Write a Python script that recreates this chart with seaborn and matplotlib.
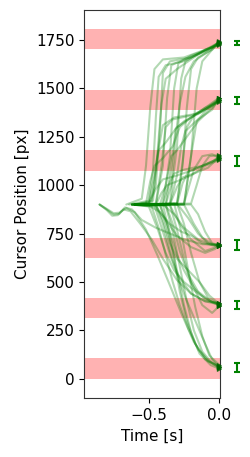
import numpy as np
import pandas as pd
import seaborn as sns
import matplotlib
matplotlib.use("Agg")
import matplotlib.pyplot as plt

# target bands (cursor position, px)
band_low = [0, 312, 622, 1075, 1388, 1702]
band_high = [105, 417, 727, 1180, 1493, 1807]

# end-point spread shown right of the axes
err_center = [1736, 1438, 1124, 692, 382, 58]
err_half = [10, 17, 26, 26, 21, 23]
err_time = 0.13

# trajectories: (time [s], cursor position [px])
traj_top = [
    [(-0.62, 900), (-0.5, 905), (-0.45, 1000), (-0.42, 1300), (-0.4, 1580), (-0.35, 1640), (-0.2, 1660), (-0.08, 1700), (0, 1735)],
    [(-0.6, 900), (-0.45, 900), (-0.4, 1100), (-0.37, 1450), (-0.34, 1620), (-0.25, 1650), (-0.1, 1690), (0, 1740)],
    [(-0.58, 900), (-0.4, 900), (-0.35, 1150), (-0.32, 1500), (-0.29, 1630), (-0.2, 1670), (-0.05, 1710), (0, 1730)],
    [(-0.55, 900), (-0.35, 905), (-0.3, 1200), (-0.27, 1550), (-0.24, 1640), (-0.15, 1680), (0, 1738)],
    [(-0.6, 900), (-0.48, 910), (-0.44, 1150), (-0.41, 1420), (-0.38, 1550), (-0.3, 1600), (-0.22, 1640), (-0.1, 1700), (0, 1725)],
    [(-0.56, 900), (-0.3, 900), (-0.26, 1100), (-0.23, 1400), (-0.2, 1600), (-0.15, 1660), (-0.05, 1700), (0, 1742)],
    [(-0.64, 900), (-0.5, 920), (-0.47, 1080), (-0.45, 1350), (-0.43, 1560), (-0.38, 1620), (-0.25, 1640), (-0.12, 1690), (0, 1733)],
    [(-0.5, 900), (-0.25, 900), (-0.2, 1150), (-0.16, 1500), (-0.12, 1640), (-0.05, 1700), (0, 1736)],
    [(-0.66, 900), (-0.55, 930), (-0.52, 1100), (-0.49, 1400), (-0.46, 1600), (-0.4, 1650), (-0.25, 1660), (-0.1, 1700), (0, 1728)],
    [(-0.57, 900), (-0.38, 900), (-0.34, 1000), (-0.31, 1250), (-0.28, 1420), (-0.24, 1560), (-0.18, 1640), (-0.06, 1700), (0, 1744)],
]
traj_second = [
    [(-0.6, 900), (-0.45, 905), (-0.41, 1100), (-0.38, 1300), (-0.33, 1340), (-0.2, 1360), (-0.08, 1400), (0, 1440)],
    [(-0.58, 900), (-0.38, 900), (-0.34, 1100), (-0.31, 1290), (-0.25, 1330), (-0.12, 1380), (0, 1448)],
    [(-0.62, 900), (-0.5, 910), (-0.46, 1050), (-0.43, 1180), (-0.38, 1220), (-0.3, 1300), (-0.2, 1350), (-0.1, 1400), (0, 1435)],
    [(-0.55, 900), (-0.3, 905), (-0.26, 1120), (-0.23, 1300), (-0.18, 1360), (-0.08, 1410), (0, 1452)],
    [(-0.6, 900), (-0.42, 900), (-0.38, 1000), (-0.34, 1150), (-0.3, 1180), (-0.22, 1260), (-0.15, 1330), (-0.05, 1400), (0, 1442)],
    [(-0.52, 900), (-0.25, 900), (-0.2, 1150), (-0.16, 1330), (-0.1, 1380), (0, 1445)],
    [(-0.6, 900), (-0.47, 920), (-0.44, 1150), (-0.4, 1310), (-0.32, 1350), (-0.15, 1370), (-0.05, 1410), (0, 1438)],
    [(-0.62, 900), (-0.52, 905), (-0.49, 1020), (-0.46, 1100), (-0.4, 1140), (-0.33, 1200), (-0.28, 1300), (-0.2, 1350), (-0.08, 1400), (0, 1432)],
    [(-0.57, 900), (-0.35, 900), (-0.3, 1050), (-0.27, 1200), (-0.24, 1280), (-0.15, 1340), (-0.05, 1390), (0, 1450)],
]
traj_third = [
    [(-0.6, 900), (-0.4, 905), (-0.36, 1000), (-0.32, 1060), (-0.25, 1080), (-0.12, 1100), (0, 1140)],
    [(-0.55, 900), (-0.3, 900), (-0.26, 1010), (-0.22, 1070), (-0.15, 1090), (-0.05, 1120), (0, 1150)],
    [(-0.62, 900), (-0.5, 905), (-0.45, 980), (-0.4, 1030), (-0.3, 1050), (-0.18, 1080), (-0.06, 1120), (0, 1135)],
    [(-0.58, 900), (-0.2, 905), (-0.16, 1000), (-0.12, 1100), (-0.07, 1150), (0, 1155)],
    [(-0.6, 900), (-0.35, 900), (-0.3, 990), (-0.26, 1040), (-0.18, 1060), (-0.08, 1090), (0, 1145)],
    [(-0.5, 900), (-0.25, 905), (-0.22, 980), (-0.18, 1080), (-0.12, 1150), (-0.05, 1160), (0, 1142)],
    [(-0.6, 900), (-0.45, 900), (-0.41, 960), (-0.37, 1000), (-0.3, 1020), (-0.2, 1050), (-0.1, 1100), (0, 1130)],
]
traj_fourth = [
    [(-0.6, 900), (-0.4, 900), (-0.32, 850), (-0.25, 780), (-0.15, 720), (-0.05, 690), (0, 692)],
    [(-0.58, 900), (-0.3, 905), (-0.22, 830), (-0.15, 750), (-0.08, 700), (0, 688)],
    [(-0.62, 900), (-0.45, 890), (-0.38, 820), (-0.3, 740), (-0.2, 680), (-0.1, 650), (-0.03, 670), (0, 695)],
    [(-0.55, 900), (-0.2, 900), (-0.15, 850), (-0.1, 760), (-0.05, 700), (0, 690)],
    [(-0.6, 900), (-0.35, 895), (-0.28, 800), (-0.2, 720), (-0.1, 660), (-0.04, 675), (0, 698)],
    [(-0.5, 900), (-0.25, 900), (-0.18, 800), (-0.12, 730), (-0.06, 700), (0, 685)],
    [(-0.85, 900), (-0.8, 875), (-0.75, 848), (-0.71, 852), (-0.67, 885), (-0.62, 875), (-0.55, 820), (-0.45, 780), (-0.35, 750), (-0.25, 720), (-0.12, 695), (0, 693)],
    [(-0.6, 900), (-0.5, 895), (-0.42, 860), (-0.35, 800), (-0.27, 760), (-0.2, 740), (-0.12, 700), (0, 684)],
]
traj_fifth = [
    [(-0.6, 900), (-0.42, 895), (-0.36, 780), (-0.3, 640), (-0.25, 560), (-0.18, 470), (-0.1, 410), (0, 385)],
    [(-0.58, 900), (-0.38, 900), (-0.33, 800), (-0.28, 660), (-0.22, 540), (-0.15, 450), (-0.06, 400), (0, 378)],
    [(-0.62, 900), (-0.5, 890), (-0.44, 780), (-0.38, 650), (-0.32, 560), (-0.25, 500), (-0.15, 440), (-0.05, 395), (0, 390)],
    [(-0.55, 900), (-0.3, 905), (-0.25, 800), (-0.2, 650), (-0.14, 500), (-0.08, 420), (0, 380)],
    [(-0.6, 900), (-0.45, 900), (-0.4, 820), (-0.35, 700), (-0.3, 620), (-0.22, 560), (-0.14, 500), (-0.07, 430), (0, 386)],
    [(-0.52, 900), (-0.35, 900), (-0.3, 770), (-0.25, 620), (-0.2, 500), (-0.12, 380), (-0.05, 340), (0, 375)],
    [(-0.85, 900), (-0.8, 872), (-0.76, 842), (-0.72, 845), (-0.68, 875), (-0.63, 865), (-0.56, 800), (-0.48, 720), (-0.4, 620), (-0.3, 510), (-0.2, 440), (-0.1, 400), (0, 383)],
    [(-0.62, 900), (-0.46, 895), (-0.4, 760), (-0.34, 620), (-0.28, 520), (-0.2, 440), (-0.1, 400), (0, 392)],
]
traj_bottom = [
    [(-0.6, 900), (-0.42, 900), (-0.37, 780), (-0.32, 620), (-0.28, 450), (-0.23, 300), (-0.17, 180), (-0.1, 100), (0, 60)],
    [(-0.58, 900), (-0.38, 895), (-0.33, 760), (-0.28, 580), (-0.23, 400), (-0.18, 250), (-0.12, 140), (-0.05, 80), (0, 55)],
    [(-0.62, 900), (-0.48, 890), (-0.43, 780), (-0.38, 640), (-0.33, 500), (-0.28, 380), (-0.22, 260), (-0.15, 150), (-0.07, 90), (0, 68)],
    [(-0.55, 900), (-0.32, 905), (-0.27, 760), (-0.22, 560), (-0.17, 370), (-0.12, 220), (-0.07, 120), (0, 72)],
    [(-0.6, 900), (-0.45, 900), (-0.4, 800), (-0.35, 660), (-0.3, 540), (-0.24, 420), (-0.17, 300), (-0.1, 180), (-0.05, 100), (0, 58)],
    [(-0.85, 900), (-0.8, 878), (-0.75, 855), (-0.71, 858), (-0.66, 882), (-0.6, 860), (-0.52, 770), (-0.44, 640), (-0.36, 500), (-0.27, 340), (-0.18, 190), (-0.08, 90), (0, 63)],
    [(-0.6, 900), (-0.4, 900), (-0.35, 740), (-0.3, 560), (-0.25, 380), (-0.2, 240), (-0.14, 130), (-0.06, 70), (0, 52)],
]

all_traj = traj_top + traj_second + traj_third + traj_fourth + traj_fifth + traj_bottom

rows = []
for i, tr in enumerate(all_traj):
    for t, y in tr:
        rows.append({"trial": i, "time": t, "pos": y})
df = pd.DataFrame(rows)
ends = df.groupby("trial").last().reset_index()

sns.set_style("ticks")
plt.rcParams["font.size"] = 11
plt.rcParams["text.color"] = "black"
plt.rcParams["axes.labelcolor"] = "black"
plt.rcParams["xtick.color"] = "black"
plt.rcParams["ytick.color"] = "black"

fig = plt.figure(figsize=(2.51, 4.57), dpi=100)
ax = fig.add_axes([0.335, 0.129, 0.541, 0.849])

for lo, hi in zip(band_low, band_high):
    ax.axhspan(lo, hi, color="red", alpha=0.3, lw=0, zorder=0)

sns.lineplot(data=df, x="time", y="pos", units="trial", estimator=None, sort=False,
             color="green", alpha=0.3, lw=1.5, ax=ax)
sns.scatterplot(data=ends, x="time", y="pos", marker=">", color="darkgreen",
                s=14, linewidth=0, alpha=0.8, ax=ax, clip_on=False, zorder=3)

ax.errorbar([err_time] * len(err_center), err_center, yerr=err_half, fmt="none",
            ecolor="green", elinewidth=1.5, capsize=2.5, capthick=1.5, clip_on=False)

ax.set_xlim(-0.96, 0.005)
ax.set_ylim(-100, 1905)
ax.set_xticks([-0.5, 0.0])
ax.set_yticks(np.arange(0, 1751, 250))
ax.set_xlabel("Time [s]")
ax.set_ylabel("Cursor Position [px]")
for s in ax.spines.values():
    s.set_color("#333333")
ax.tick_params(colors="black", labelsize=11)

fig.savefig("out.png", dpi=100)
